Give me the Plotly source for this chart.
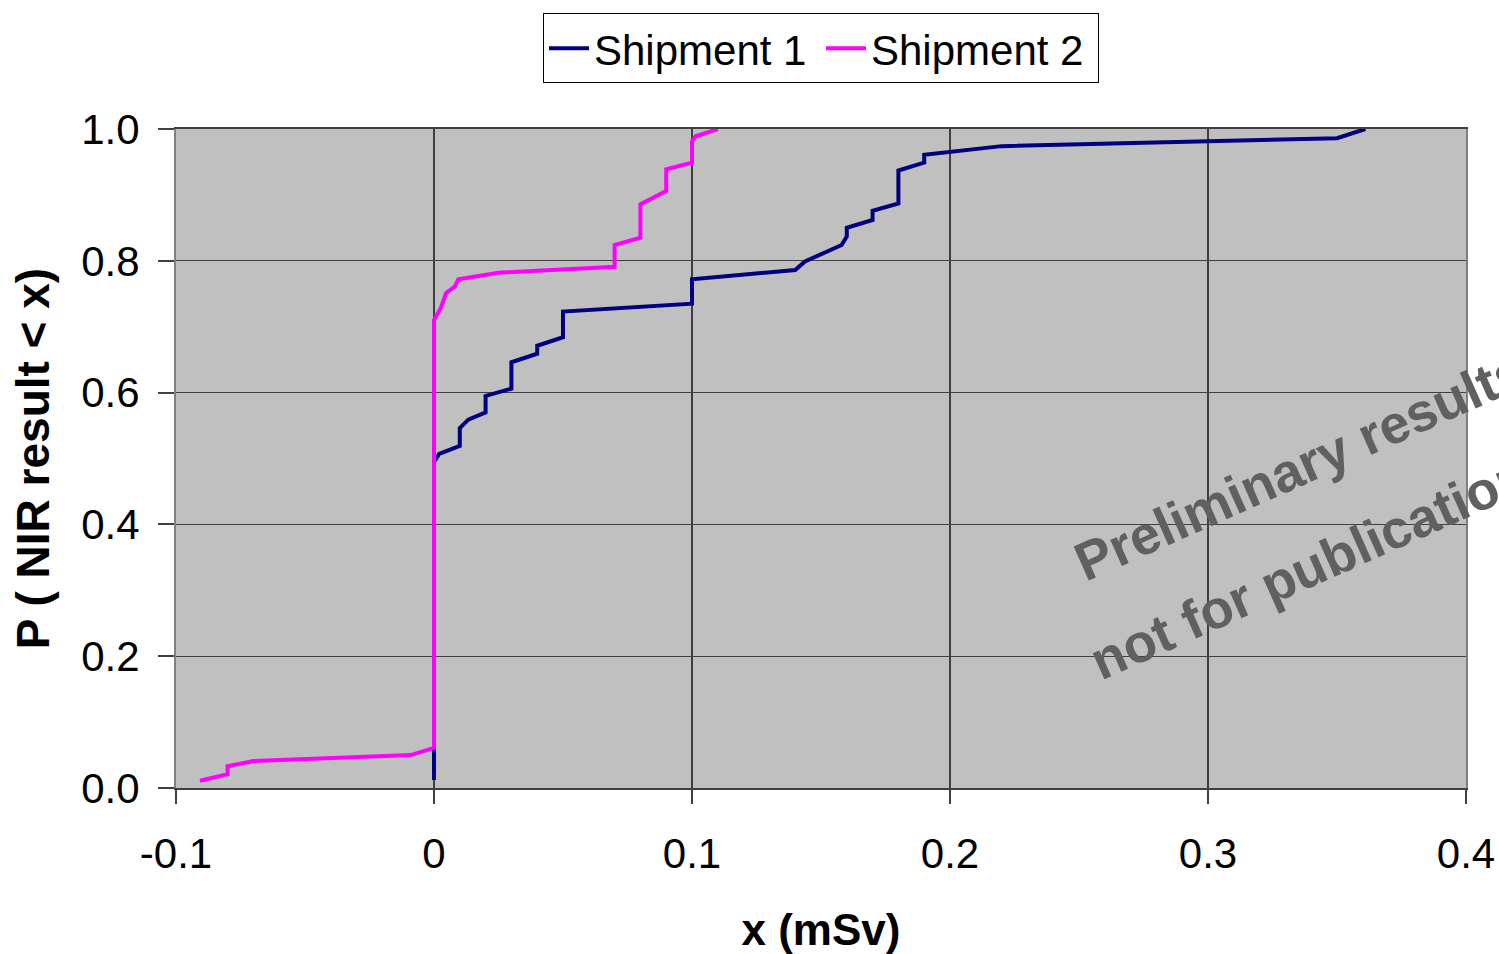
import plotly.graph_objects as go

ship1_x = [0, 0, 0.002, 0.01, 0.01, 0.0133, 0.02, 0.02, 0.03, 0.03, 0.04, 0.04,
           0.05, 0.05, 0.1, 0.1, 0.14, 0.1438, 0.158, 0.16, 0.16, 0.17, 0.17,
           0.18, 0.18, 0.19, 0.19, 0.22, 0.35, 0.361]
ship1_y = [0.012, 0.495, 0.507, 0.519, 0.546, 0.559, 0.570, 0.595, 0.606, 0.646,
           0.659, 0.671, 0.684, 0.723, 0.735, 0.772, 0.786, 0.799, 0.824, 0.837,
           0.850, 0.862, 0.876, 0.887, 0.937, 0.949, 0.961, 0.974, 0.986, 1.0]

# Shipment 2 (magenta)
ship2_x = [-0.0907, -0.08, -0.08, -0.07, -0.009, 0, 0, 0.0026, 0.0047, 0.0081,
           0.0094, 0.025, 0.07, 0.07, 0.08, 0.08, 0.09, 0.09, 0.1, 0.1, 0.1014, 0.11]
ship2_y = [0.011, 0.021, 0.033, 0.041, 0.050, 0.061, 0.710, 0.728, 0.751, 0.761,
           0.772, 0.782, 0.791, 0.824, 0.835, 0.886, 0.906, 0.939, 0.949, 0.981,
           0.989, 1.0]

x_tickvals = [-0.1, 0, 0.1, 0.2, 0.3, 0.4]
x_ticktext = ["-0.1", "0", "0.1", "0.2", "0.3", "0.4"]
y_tickvals = [0.0, 0.2, 0.4, 0.6, 0.8, 1.0]
y_ticktext = ["0.0", "0.2", "0.4", "0.6", "0.8", "1.0"]

series_names = ["Shipment 1", "Shipment 2"]
series_colors = ["#000080", "#FF00FF"]

FONT = "Arial, Liberation Sans, sans-serif"

fig = go.Figure()
fig.add_trace(go.Scatter(x=ship1_x, y=ship1_y, mode="lines", name=series_names[0],
                         line=dict(color=series_colors[0], width=4)))
fig.add_trace(go.Scatter(x=ship2_x, y=ship2_y, mode="lines", name=series_names[1],
                         line=dict(color=series_colors[1], width=4)))

fig.update_layout(
    width=1499, height=954,
    margin=dict(l=176, r=33, t=129, b=166),
    paper_bgcolor="white",
    plot_bgcolor="#C0C0C0",
    font=dict(family=FONT, size=42, color="black"),
    showlegend=True,
    legend=dict(orientation="h", x=0.5, xanchor="center", y=1.1755, yanchor="top",
                bgcolor="white", bordercolor="black", borderwidth=1,
                font=dict(family=FONT, size=42), itemwidth=40,
                entrywidth=222, entrywidthmode="pixels"),
    xaxis=dict(range=[-0.1, 0.4], tickvals=x_tickvals, ticktext=x_ticktext,
               automargin=False,
               showgrid=True, gridcolor="#404040", gridwidth=1.5, zeroline=False,
               showline=True, linecolor="#404040", linewidth=2, mirror=True,
               ticks="outside", ticklen=14, tickcolor="#404040", tickwidth=1.5,
               ticklabelstandoff=14,
               title=dict(text="x (mSv)", font=dict(family=FONT, size=44, weight="bold"),
                          standoff=38)),
    yaxis=dict(range=[0, 1], tickvals=y_tickvals, ticktext=y_ticktext,
               automargin=False,
               showgrid=True, gridcolor="#404040", gridwidth=1.2, zeroline=False,
               showline=True, linecolor="#808080", linewidth=2, mirror=True,
               ticks="outside", ticklen=16, tickcolor="#404040", tickwidth=1.5,
               ticklabelstandoff=10,
               title=dict(text="P ( NIR result < x)", font=dict(family=FONT, size=46, weight="bold"),
                          standoff=17)),
)

fig.add_annotation(xref="paper", yref="paper", x=0.871, y=0.488,
                   text="Preliminary results", showarrow=False, textangle=-24,
                   xanchor="center", yanchor="middle",
                   font=dict(family=FONT, size=54, color="#606060", weight="bold"))
fig.add_annotation(xref="paper", yref="paper", x=0.879, y=0.335,
                   text="not for publication", showarrow=False, textangle=-24,
                   xanchor="center", yanchor="middle",
                   font=dict(family=FONT, size=54, color="#606060", weight="bold"))

fig.write_html("out.html", config={"displayModeBar": False},
               post_script="document.body.style.margin='0';document.body.style.overflow='hidden';")
